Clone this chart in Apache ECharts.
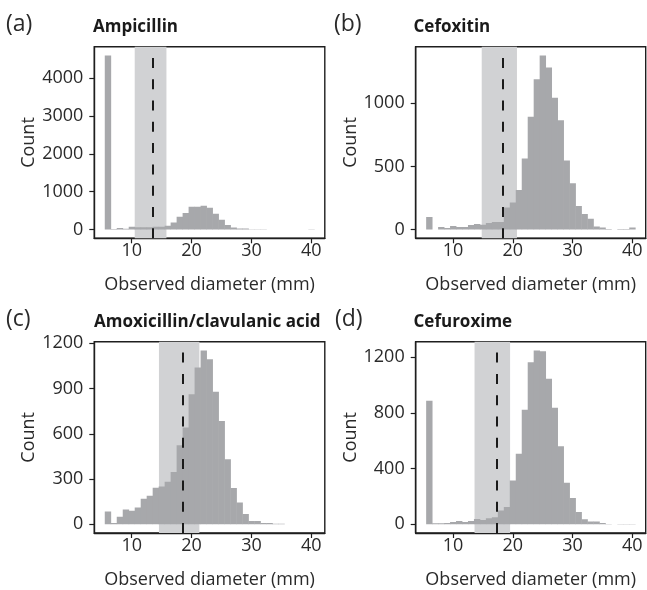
<!DOCTYPE html>
<html><head><meta charset="utf-8">
<script src="https://cdn.jsdelivr.net/npm/echarts@6/dist/echarts.min.js"></script>
<style>html,body{margin:0;padding:0;background:#fff}#c{width:647px;height:590px}</style>
</head><body><div id="c"></div>
<script>
// ---- data (bin centres in mm, counts per 1-mm bin) ----
const diameters = [6,7,8,9,10,11,12,13,14,15,16,17,18,19,20,21,22,23,24,25,26,27,28,29,30,31,32,33,34,35,36,37,38,39,40];
const ampicillin = [4600,15,40,20,75,60,60,60,75,75,100,190,340,440,600,600,630,575,420,260,120,55,30,30,10,10,10,0,0,0,0,0,0,0,10];
const cefoxitin  = [100,0,20,13,28,21,21,37,45,39,52,60,60,175,215,314,563,895,1191,1380,1285,1045,867,547,367,186,123,86,24,16,5,0,5,5,16];
const amoxiclav  = [85,9,50,98,90,111,170,190,242,251,282,347,524,642,862,1039,1153,1094,878,685,432,240,144,68,22,22,9,9,3,3,0,0,0,0,0];
const cefuroxime = [888,7,7,9,17,24,17,24,38,31,43,50,99,125,315,507,824,1165,1250,1243,1047,838,561,298,189,88,36,21,21,9,2,0,2,2,2];

const panelLetters = ['(a)','(b)','(c)','(d)'];
const panelTitles = ['Ampicillin','Cefoxitin','Amoxicillin/clavulanic acid','Cefuroxime'];
const bandRanges = [[10.5,15.8],[14.8,20.7],[14.55,21.3],[13.6,19.55]];
const cutoffs = [13.5,18.4,18.5,17.4];
const xTicks = [10,20,30,40];
const yTicks = [[0,1000,2000,3000,4000],[0,500,1000],[0,300,600,900,1200],[0,400,800,1200]];
const xName = 'Observed diameter (mm)';
const yName = 'Count';

const seriesValues = [ampicillin, cefoxitin, amoxiclav, cefuroxime];

// ---- layout ----
const FONT = "'Open Sans', sans-serif";
const TXT = '#2a2a2a';
const grids = [
  {left:94.3, top:46.7, width:230.5, height:191.6},
  {left:415.7, top:46.7, width:230, height:191.6},
  {left:94.3, top:341.7, width:230.5, height:191.6},
  {left:415.7, top:341.7, width:230, height:191.6}
];
const letterPos = [[6,13],[334,13],[6,308],[335,308]];
const titlePos = [[93,19],[413.5,19],[94,314],[413.5,314]];

const option = {animation:false, backgroundColor:'#fff', grid:[], xAxis:[], yAxis:[], series:[], title:[]};

function renderBar(params, api){
  const k = api.value(0), v = api.value(1);
  if (!v) return null;
  const p0 = api.coord([k-0.5, 0]);
  const p1 = api.coord([k+0.5, v]);
  return {type:'rect', shape:{x:p0[0], y:p1[1], width:p1[0]-p0[0]+0.4, height:p0[1]-p1[1]}, style:{fill:'#a7a8ab'}};
}
const plain = v => String(v);

seriesValues.forEach((vals, i) => {
  const g = grids[i];
  option.grid.push({left:g.left, top:g.top, width:g.width, height:g.height, show:true, borderColor:'#1e1e1e', borderWidth:1.4, backgroundColor:'transparent', containLabel:false});
  const ymax = Math.max(...vals);
  option.xAxis.push({
    type:'value', gridIndex:i, min:3.75, max:42.25,
    splitLine:{show:false},
    axisLine:{show:true, onZero:false, lineStyle:{color:'#1e1e1e', width:1.4}},
    axisTick:{show:true, length:5, customValues:xTicks, lineStyle:{color:'#1e1e1e', width:1.2}},
    axisLabel:{customValues:xTicks, margin:4, color:TXT, fontSize:18, fontFamily:FONT, formatter:plain},
    name:xName, nameLocation:'middle', nameGap:38,
    nameTextStyle:{color:TXT, fontSize:18, fontFamily:FONT}
  });
  option.yAxis.push({
    type:'value', gridIndex:i, min:-0.05*ymax, max:1.05*ymax,
    splitLine:{show:false},
    axisLine:{show:true, onZero:false, lineStyle:{color:'#1e1e1e', width:1.4}},
    axisTick:{show:true, length:5, customValues:yTicks[i], lineStyle:{color:'#1e1e1e', width:1.2}},
    axisLabel:{customValues:yTicks[i], margin:11, color:TXT, fontSize:18, fontFamily:FONT, formatter:plain},
    name:yName, nameLocation:'middle', nameGap:54, nameRotate:90,
    nameTextStyle:{color:TXT, fontSize:18, fontFamily:FONT}
  });
  // shaded band
  option.series.push({
    type:'line', xAxisIndex:i, yAxisIndex:i, data:[], z:1, silent:true,
    markArea:{silent:true, itemStyle:{color:'#d1d2d4'}, data:[[{xAxis:bandRanges[i][0]},{xAxis:bandRanges[i][1]}]]}
  });
  // histogram bars
  option.series.push({
    type:'custom', xAxisIndex:i, yAxisIndex:i, z:2, silent:true, clip:true,
    renderItem:renderBar,
    data: diameters.map((d, j) => [d, vals[j]])
  });
  // dashed cutoff line
  option.series.push({
    type:'line', xAxisIndex:i, yAxisIndex:i, data:[], z:3, silent:true,
    markLine:{silent:true, symbol:'none', label:{show:false},
      lineStyle:{color:'#1a1a1a', width:2, type:[10,11.3]},
      data:[{xAxis:cutoffs[i]}]}
  });
  option.title.push({text:panelLetters[i], left:letterPos[i][0], top:letterPos[i][1], padding:0,
    textStyle:{fontFamily:FONT, fontSize:23, fontWeight:'normal', color:TXT, lineHeight:23}});
  option.title.push({text:panelTitles[i], left:titlePos[i][0], top:titlePos[i][1], padding:0,
    textStyle:{fontFamily:FONT, fontSize:17, fontWeight:'bold', color:'#1a1a1a', lineHeight:17}});
});

const chart = echarts.init(document.getElementById('c'), null, {renderer:'canvas'});
chart.setOption(option);
</script>
</body></html>
